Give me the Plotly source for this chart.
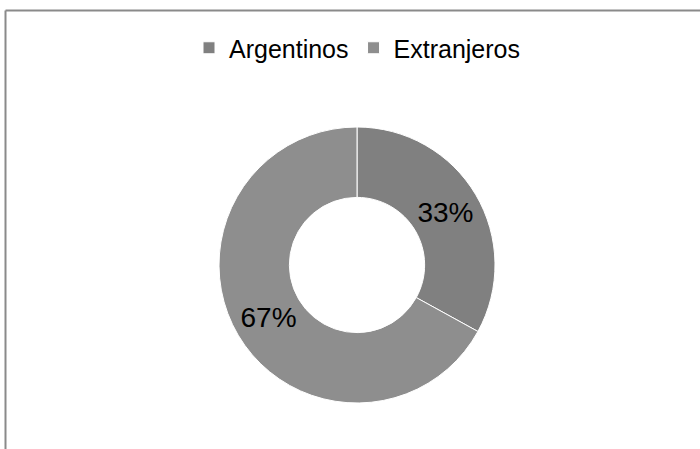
import plotly.graph_objects as go

categories = ["Argentinos", "Extranjeros"]
values = [33, 67]
colors = ["#808080", "#8e8e8e"]

W, H = 700, 449
cx, cy, R = 357, 265, 138

fig = go.Figure(go.Pie(
    labels=categories,
    values=values,
    hole=0.49,
    sort=False,
    direction="clockwise",
    rotation=0,
    marker=dict(colors=colors, line=dict(color="white", width=1)),
    textinfo="percent",
    texttemplate="%{percent:.0%}",
    textposition="inside",
    insidetextorientation="horizontal",
    textfont=dict(family="Liberation Sans", size=28, color="black"),
    hoverinfo="label+percent",
    domain=dict(x=[(cx - R) / W, (cx + R) / W], y=[(H - cy - R) / H, (H - cy + R) / H]),
))

fig.update_layout(
    width=W, height=H,
    margin=dict(l=0, r=0, t=0, b=0),
    paper_bgcolor="white",
    plot_bgcolor="white",
    font=dict(family="Liberation Sans", color="black"),
    showlegend=True,
    legend=dict(orientation="h", x=0.51, xanchor="center", y=1 - 48 / H, yanchor="middle",
                font=dict(size=25, color="black"), itemclick=False),
    shapes=[
        dict(type="line", xref="paper", yref="paper", x0=5.5 / W, x1=1, y0=1 - 10.5 / H, y1=1 - 10.5 / H,
             line=dict(color="#8a8a8a", width=2)),
        dict(type="line", xref="paper", yref="paper", x0=5.5 / W, x1=5.5 / W, y0=0, y1=1 - 10.5 / H,
             line=dict(color="#8a8a8a", width=2)),
    ],
)

fig.write_html("out.html", config={"displayModeBar": False},
               post_script="document.body.style.margin='0';")
